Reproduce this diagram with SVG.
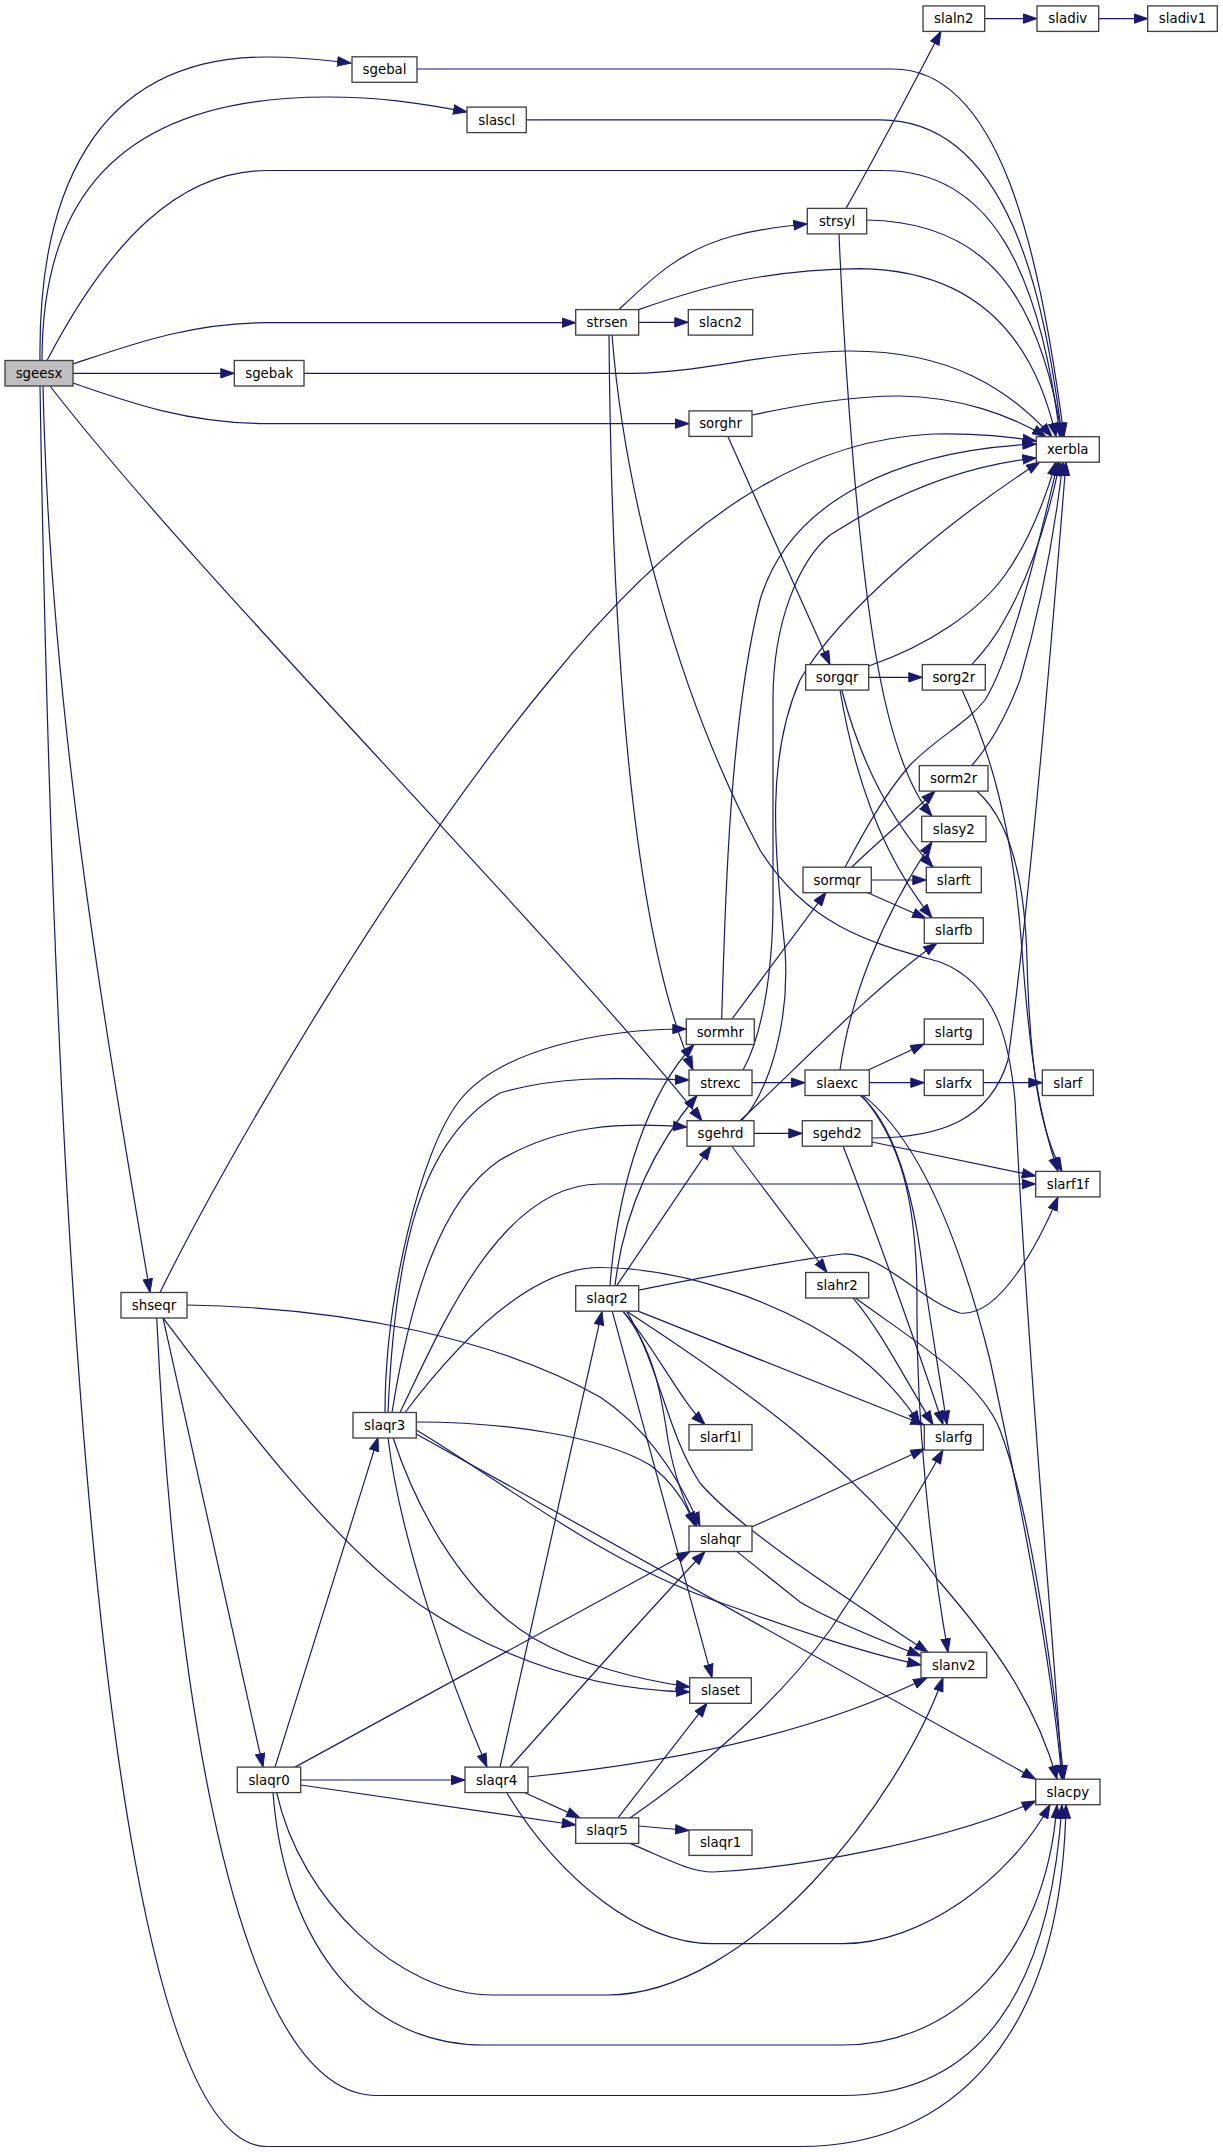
<svg xmlns="http://www.w3.org/2000/svg" width="1223" height="2152" viewBox="0 0 1223 2152">
<style>
.n rect{fill:#fff;stroke:#404040;stroke-width:1.33}
.n.root rect{fill:#bfbfbf}
.n text{font-family:"DejaVu Sans","Liberation Sans",sans-serif;font-size:13.33px;text-anchor:middle;fill:#000}
#edges path{fill:none;stroke:#191970;stroke-width:1.2;marker-end:url(#a)}
</style>
<defs>
<marker id="a" markerWidth="15" markerHeight="11" refX="14" refY="5.5" orient="auto" markerUnits="userSpaceOnUse"><path d="M0.5,0.8 L14,5.5 L0.5,10.2 z" fill="#191970" stroke="#191970"/></marker>
</defs>
<rect width="1223" height="2152" fill="#fff"/>
<g id="edges">
<path d="M40,360.5 C38,200 90,57 267,57 C300,57 325,60 351,63"/>
<path d="M42,360.5 C42,230 90,97 327,97 C380,97 420,103 467,112"/>
<path d="M47,360.5 C110,240 180,170.5 267,170.5 L883,170.5 C990,170.5 1040,270 1060,436.7"/>
<path d="M73,364 C130,345 190,322.7 267,322.7 L575.7,322.7"/>
<path d="M73,373.3 L234.3,373.3"/>
<path d="M73,383 C130,403 190,423.6 267,423.6 L689,423.6"/>
<path d="M50,386 C200,580 550,930 702,1120.7"/>
<path d="M43,386 C50,700 100,1000 150,1292.5"/>
<path d="M40,386 C60,1600 140,2146.5 267,2146.5 L800,2146.5 C950,2146.5 1062,2040 1066,1804.7"/>
<path d="M417,69 L893,69 C1000,69 1040,250 1064,436.7"/>
<path d="M526.3,119.8 L880,119.8 C1010,119.8 1045,300 1062,436.7"/>
<path d="M619,309.6 C650,280 680,250 733,236 C760,229 785,226 807.3,224"/>
<path d="M638.7,309.6 C700,288 760,270 860,268.6 C960,270 1030,320 1056,436.7"/>
<path d="M638.7,322.3 L688.3,322.3"/>
<path d="M609,335 C612,700 640,950 693,1070"/>
<path d="M612,335 C625,500 680,700 760,850 C810,930 880,945 940,962 C1000,985 1010,1050 1015,1100 C1030,1400 1055,1650 1062,1779.2"/>
<path d="M846,208.4 C865,175 900,110 941,31.3"/>
<path d="M866.7,220 C990,222 1040,300 1062,436.7"/>
<path d="M839,234 C846,400 860,560 875,650 C890,740 910,790 932,816.2"/>
<path d="M984.7,18.6 L1037,18.6"/>
<path d="M1098.7,18.6 L1147.7,18.6"/>
<path d="M304,373.3 L633,373.3 C700,373 760,353 847,351 C950,350 1010,390 1052,436.7"/>
<path d="M752,415 C800,405 850,396 900,396 C960,397 1010,415 1046,436.7"/>
<path d="M728,436.7 L830,664.6"/>
<path d="M868.7,666 C930,645 980,610 1005,575 C1030,540 1045,500 1056,461.8"/>
<path d="M971.7,664.6 C990,645 1000,630 1015,600 C1035,560 1050,510 1060,461.8"/>
<path d="M971.7,765.6 C990,745 1005,720 1020,680 C1040,610 1055,530 1063,461.8"/>
<path d="M845,867.2 C860,840 880,800 910,765 C940,735 965,725 985,700 C1010,660 1035,560 1058,461.8"/>
<path d="M872,1138 C940,1138 990,1120 1008,1060 C1030,900 1055,600 1066,461.8"/>
<path d="M732,1019 L826,892.3"/>
<path d="M851.7,867.2 C880,840 910,815 935,791"/>
<path d="M871.3,880 L926.3,880"/>
<path d="M866.7,892.3 L926,918.5"/>
<path d="M868.7,677.3 L922.3,677.3"/>
<path d="M841.7,690 C860,760 890,820 933,867.2"/>
<path d="M840,690 C855,780 885,860 932,917.8"/>
<path d="M962,690 C995,760 1015,850 1022,950 C1030,1060 1040,1120 1058,1171.4"/>
<path d="M976.7,791 C1010,820 1025,880 1027,960 C1030,1070 1040,1130 1062,1171.4"/>
<path d="M752,1082.7 L805,1082.7"/>
<path d="M869.3,1082.7 L924.3,1082.7"/>
<path d="M983.3,1082.7 L1042.3,1082.7"/>
<path d="M868.3,1070 L924.3,1044"/>
<path d="M840,1070 C850,1000 880,920 932,842"/>
<path d="M860,1095.4 C890,1120 910,1180 920,1250 C930,1320 940,1380 947,1424.6"/>
<path d="M861.7,1095.4 C900,1140 917,1200 917,1300 C916,1420 930,1550 948,1652.2"/>
<path d="M863,1095.4 C920,1140 960,1240 990,1360 C1020,1500 1050,1650 1062,1779.2"/>
<path d="M754,1133.4 L802.3,1133.4"/>
<path d="M731.7,1146 L827,1272.5"/>
<path d="M740,1120.7 C780,1085 870,990 937,943"/>
<path d="M741.7,1120.7 C770,1090 790,1020 785,950 C775,850 765,760 800,680 C840,610 950,520 1040,461.8"/>
<path d="M743,1070 C760,1040 773,980 773,900 L773,700 C773,620 800,560 830,535 C900,490 970,465 1036.3,458"/>
<path d="M721.7,1019 C725,900 730,720 760,600 C790,500 900,450 1036.3,444"/>
<path d="M872,1142 L1035.7,1176"/>
<path d="M843,1146 C870,1215 915,1340 943,1424.6"/>
<path d="M853,1297.8 C880,1330 900,1370 933,1424.6"/>
<path d="M855,1297.8 C920,1345 980,1380 1000,1430 C1030,1510 1050,1650 1064,1779.2"/>
<path d="M638.7,1290 C700,1278 780,1262 843,1254 C880,1252 920,1300 960,1313 C1000,1318 1040,1240 1058,1196.9"/>
<path d="M623,1311.4 C650,1340 680,1400 705,1424.6"/>
<path d="M623,1311.4 C655,1350 662,1400 668,1440 C675,1480 685,1505 697,1526"/>
<path d="M626.7,1311.4 C660,1368 667,1433 700,1483 C740,1530 850,1600 928,1652.2"/>
<path d="M627,1311.4 C740,1385 860,1470 938,1580 C990,1640 1035,1700 1057,1779.2"/>
<path d="M638.7,1311.4 L924.3,1425"/>
<path d="M612.3,1311.4 L712,1677.8"/>
<path d="M610,1285.7 C618,1180 650,1090 694,1044.5"/>
<path d="M615,1285.7 C625,1200 660,1140 697,1095.5"/>
<path d="M616.7,1285.7 L711,1146.2"/>
<path d="M385,1412.5 C385,1300 420,1150 460,1100 C500,1050 600,1029 686.3,1029"/>
<path d="M388,1412.5 C395,1250 420,1140 500,1093 C560,1075 620,1078 689,1080"/>
<path d="M392,1412.5 C410,1300 440,1200 500,1160 C560,1125 620,1122 687,1127"/>
<path d="M400,1412.5 C440,1330 500,1184 600,1184 L1035.7,1184"/>
<path d="M405,1412.5 C460,1340 530,1267.5 600,1267.5 C680,1268 780,1300 850,1350 C880,1372 905,1400 920,1424.6"/>
<path d="M416.3,1422 C500,1422 600,1435 650,1465 C670,1480 685,1500 695,1526"/>
<path d="M388,1437.5 C400,1540 450,1680 487,1767.1"/>
<path d="M393,1437.5 C420,1520 470,1600 533,1638 C580,1665 640,1680 689.7,1687"/>
<path d="M416.3,1430 C500,1480 600,1560 713,1600 C770,1620 850,1650 921,1665"/>
<path d="M416.3,1434 L1035.7,1779.2"/>
<path d="M275,1767.1 C300,1690 340,1560 378,1437.5"/>
<path d="M295,1767.1 L690,1551.5"/>
<path d="M300.7,1780 L465,1780"/>
<path d="M300.7,1785 L575.7,1825"/>
<path d="M276.7,1792.7 C300,1900 400,1995 493,1995 L607,1995 C750,1995 900,1800 943,1677.8"/>
<path d="M273,1792.7 C285,1950 370,2045 483,2045 L843,2045 C950,2045 1045,1960 1057,1804.7"/>
<path d="M500,1767.1 L602,1311.4"/>
<path d="M510,1767.1 C570,1700 640,1620 705,1551.5"/>
<path d="M525,1792.7 L580,1817.9"/>
<path d="M528,1777 C650,1765 800,1740 927,1677.8"/>
<path d="M506.7,1792.7 C560,1880 640,1943.7 713,1943.7 L843,1943.7 C920,1943.7 1010,1880 1050,1804.7"/>
<path d="M618,1817.9 L707,1703.3"/>
<path d="M630,1817.9 C700,1770 780,1700 830,1630 C870,1570 915,1500 943,1450"/>
<path d="M638.7,1826 L689,1830.5"/>
<path d="M630,1843.4 C670,1860 690,1872 713,1872 C800,1868 950,1840 1035.7,1801"/>
<path d="M160,1292.5 C230,1150 400,860 550,680 C680,520 800,440 933,434 C980,433 1010,437 1036.3,441"/>
<path d="M187,1305 C350,1308 500,1340 600,1397 C650,1430 680,1480 700,1526"/>
<path d="M163,1317.8 L263,1767.1"/>
<path d="M163,1317.8 C240,1420 330,1540 420,1605 C510,1665 600,1690 689.7,1692"/>
<path d="M156.7,1317.8 C170,1600 220,2095.5 377,2095.5 L843,2095.5 C980,2095.5 1050,1990 1062,1804.7"/>
<path d="M751.7,1527 L924.3,1449"/>
<path d="M736.7,1551.4 L800,1602 C830,1620 880,1640 921,1656"/>
</g>
<g id="sgeesx" class="n root"><rect x="5" y="360.5" width="68" height="25.5"/><text x="39" y="378">sgeesx</text></g>
<g id="sgebal" class="n"><rect x="352" y="56.8" width="65" height="25.5"/><text x="384.5" y="74.3">sgebal</text></g>
<g id="slascl" class="n"><rect x="467" y="107.1" width="59.3" height="25.5"/><text x="496.7" y="124.6">slascl</text></g>
<g id="xerbla" class="n"><rect x="1036.3" y="436.7" width="63" height="25.5"/><text x="1067.8" y="454.2">xerbla</text></g>
<g id="strsen" class="n"><rect x="575.7" y="309.6" width="63" height="25.5"/><text x="607.2" y="327.1">strsen</text></g>
<g id="sgebak" class="n"><rect x="234.3" y="360.5" width="69.7" height="25.5"/><text x="269.2" y="378">sgebak</text></g>
<g id="sorghr" class="n"><rect x="689" y="410.9" width="63" height="25.5"/><text x="720.5" y="428.4">sorghr</text></g>
<g id="sgehrd" class="n"><rect x="687" y="1120.7" width="67" height="25.5"/><text x="720.5" y="1138.2">sgehrd</text></g>
<g id="shseqr" class="n"><rect x="121" y="1292.5" width="66" height="25.5"/><text x="154" y="1310">shseqr</text></g>
<g id="slaqr0" class="n"><rect x="237.3" y="1767.1" width="63.4" height="25.5"/><text x="269" y="1784.6">slaqr0</text></g>
<g id="slacpy" class="n"><rect x="1035.7" y="1779.2" width="64.3" height="25.5"/><text x="1067.8" y="1796.7">slacpy</text></g>
<g id="slaln2" class="n"><rect x="923" y="5.9" width="61.7" height="25.5"/><text x="953.8" y="23.4">slaln2</text></g>
<g id="sladiv" class="n"><rect x="1037" y="5.9" width="61.7" height="25.5"/><text x="1067.8" y="23.4">sladiv</text></g>
<g id="sladiv1" class="n"><rect x="1147.7" y="5.9" width="69.6" height="25.5"/><text x="1182.5" y="23.4">sladiv1</text></g>
<g id="strsyl" class="n"><rect x="807.3" y="208.4" width="59.4" height="25.5"/><text x="837" y="225.9">strsyl</text></g>
<g id="slacn2" class="n"><rect x="688.3" y="309.6" width="64.4" height="25.5"/><text x="720.5" y="327.1">slacn2</text></g>
<g id="sorgqr" class="n"><rect x="805.7" y="664.6" width="63" height="25.5"/><text x="837.2" y="682.1">sorgqr</text></g>
<g id="sorg2r" class="n"><rect x="922.3" y="664.6" width="63" height="25.5"/><text x="953.8" y="682.1">sorg2r</text></g>
<g id="sorm2r" class="n"><rect x="919.3" y="765.6" width="68.7" height="25.5"/><text x="953.6" y="783.1">sorm2r</text></g>
<g id="slasy2" class="n"><rect x="921.7" y="816.2" width="64.3" height="25.5"/><text x="953.8" y="833.7">slasy2</text></g>
<g id="sormqr" class="n"><rect x="803" y="867.2" width="68.3" height="25.5"/><text x="837.2" y="884.7">sormqr</text></g>
<g id="slarft" class="n"><rect x="926.3" y="867.2" width="55" height="25.5"/><text x="953.8" y="884.7">slarft</text></g>
<g id="slarfb" class="n"><rect x="924.3" y="917.8" width="59" height="25.5"/><text x="953.8" y="935.3">slarfb</text></g>
<g id="slartg" class="n"><rect x="924.3" y="1019" width="59" height="25.5"/><text x="953.8" y="1036.5">slartg</text></g>
<g id="sormhr" class="n"><rect x="686.3" y="1019" width="68" height="25.5"/><text x="720.3" y="1036.5">sormhr</text></g>
<g id="strexc" class="n"><rect x="689" y="1070" width="63" height="25.5"/><text x="720.5" y="1087.5">strexc</text></g>
<g id="slaexc" class="n"><rect x="805" y="1070" width="64.3" height="25.5"/><text x="837.2" y="1087.5">slaexc</text></g>
<g id="slarfx" class="n"><rect x="924.3" y="1070" width="59" height="25.5"/><text x="953.8" y="1087.5">slarfx</text></g>
<g id="slarf" class="n"><rect x="1042.3" y="1070" width="51" height="25.5"/><text x="1067.8" y="1087.5">slarf</text></g>
<g id="sgehd2" class="n"><rect x="802.3" y="1120.7" width="69.7" height="25.5"/><text x="837.2" y="1138.2">sgehd2</text></g>
<g id="slarf1f" class="n"><rect x="1035.7" y="1171.4" width="64.3" height="25.5"/><text x="1067.8" y="1188.9">slarf1f</text></g>
<g id="slahr2" class="n"><rect x="805.7" y="1272.5" width="63" height="25.5"/><text x="837.2" y="1290">slahr2</text></g>
<g id="slaqr2" class="n"><rect x="575.7" y="1285.7" width="63" height="25.5"/><text x="607.2" y="1303.2">slaqr2</text></g>
<g id="slarf1l" class="n"><rect x="689" y="1424.6" width="63" height="25.5"/><text x="720.5" y="1442.1">slarf1l</text></g>
<g id="slarfg" class="n"><rect x="924.3" y="1424.6" width="59" height="25.5"/><text x="953.8" y="1442.1">slarfg</text></g>
<g id="slaqr3" class="n"><rect x="353" y="1412.5" width="63.3" height="25.5"/><text x="384.7" y="1430">slaqr3</text></g>
<g id="slahqr" class="n"><rect x="689" y="1526" width="63" height="25.5"/><text x="720.5" y="1543.5">slahqr</text></g>
<g id="slanv2" class="n"><rect x="921" y="1652.2" width="65.7" height="25.5"/><text x="953.8" y="1669.7">slanv2</text></g>
<g id="slaset" class="n"><rect x="689.7" y="1677.8" width="61.6" height="25.5"/><text x="720.5" y="1695.3">slaset</text></g>
<g id="slaqr4" class="n"><rect x="465" y="1767.1" width="63" height="25.5"/><text x="496.5" y="1784.6">slaqr4</text></g>
<g id="slaqr5" class="n"><rect x="575.7" y="1817.9" width="63" height="25.5"/><text x="607.2" y="1835.4">slaqr5</text></g>
<g id="slaqr1" class="n"><rect x="689" y="1829.9" width="63" height="25.5"/><text x="720.5" y="1847.4">slaqr1</text></g>
</svg>
